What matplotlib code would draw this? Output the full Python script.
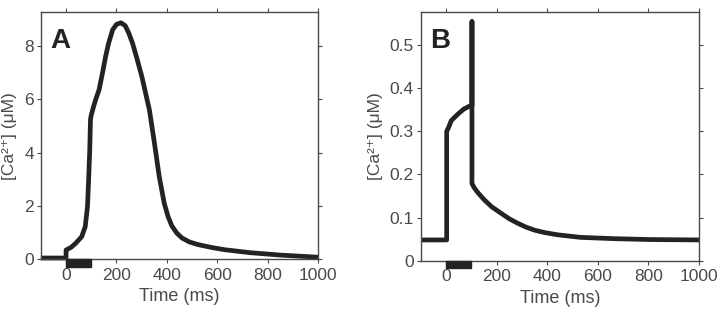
import matplotlib
matplotlib.use('Agg')
import matplotlib.pyplot as plt
import matplotlib.transforms as mtransforms
from matplotlib.patches import Rectangle

plt.rcParams['font.family'] = ['Liberation Sans', 'DejaVu Sans']

# Panel A: Ca2+ transient (time in ms, concentration in uM)
time_a = [-100, 0, 0, 20, 38, 62, 76, 85, 89, 94, 97, 100, 110, 120, 131, 145, 157, 169,
          185, 200, 218, 235, 250, 264, 282, 301, 331, 351, 370, 390, 405, 420, 440, 460,
          490, 525, 580, 630, 730, 850, 1000]
conc_a = [0.05, 0.05, 0.35, 0.45, 0.6, 0.85, 1.22, 1.97, 2.85, 4.1, 5.25, 5.4, 5.75,
          6.05, 6.35, 7.0, 7.6, 8.1, 8.6, 8.8, 8.86, 8.75, 8.45, 8.09, 7.5, 6.84, 5.59,
          4.34, 3.09, 2.09, 1.6, 1.25, 0.98, 0.8, 0.65, 0.55, 0.44, 0.36, 0.25, 0.16, 0.08]

# Panel B
time_b = [-100, 2, 2, 10, 20, 46, 70, 90, 102, 102, 102, 110, 125, 151, 180, 217, 250,
          282, 315, 348, 390, 440, 531, 663, 800, 1000]
conc_b = [0.048, 0.048, 0.30, 0.31, 0.325, 0.34, 0.352, 0.358, 0.36, 0.555, 0.179, 0.17,
          0.158, 0.141, 0.125, 0.110, 0.097, 0.087, 0.078, 0.071, 0.065, 0.060, 0.054,
          0.051, 0.049, 0.048]

stim = (0, 100)
xticks = [0, 200, 400, 600, 800, 1000]
yticks_a = [0, 2, 4, 6, 8]
yticks_b = [0, 0.1, 0.2, 0.3, 0.4, 0.5]
ytick_labels_b = ['0', '0.1', '0.2', '0.3', '0.4', '0.5']

gray = '#4a4a4a'
line_col = '#232323'

fig = plt.figure(figsize=(7.17, 3.19), dpi=100)
ax_a = fig.add_axes([0.057, 0.187, 0.3865, 0.775])
ax_b = fig.add_axes([0.587, 0.183, 0.388, 0.779])


def style(ax, letter, ylim, yticks, ylabels=None):
    ax.set_xlim(-100, 1000)
    ax.set_ylim(*ylim)
    ax.set_xticks(xticks)
    ax.set_yticks(yticks)
    if ylabels is not None:
        ax.set_yticklabels(ylabels)
    ax.tick_params(direction='out', length=3, width=0.8, color=gray, labelcolor=gray,
                   labelsize=12.5, top=True, right=True, pad=2)
    ax.tick_params(axis='x', pad=3)
    for s in ax.spines.values():
        s.set_color(gray)
        s.set_linewidth(1.0)
    ax.set_xlabel('Time (ms)', fontsize=13, color=gray, labelpad=4)
    ax.set_ylabel('[Ca²⁺] (μM)', fontsize=12.5, color=gray, labelpad=5)
    ax.text(0.035, 0.935, letter, transform=ax.transAxes, fontsize=20, fontweight='bold',
            color=line_col, va='top', ha='left')
    # stimulus bar under the x axis
    trans = mtransforms.blended_transform_factory(ax.transData, ax.transAxes)
    ax.add_patch(Rectangle((stim[0], -0.03), stim[1] - stim[0], 0.03, transform=trans,
                           color=line_col, clip_on=False, zorder=5))


ax_a.plot(time_a, conc_a, color=line_col, lw=3.4, solid_joinstyle='round',
          solid_capstyle='butt', clip_on=False)
style(ax_a, 'A', (0, 9.26), yticks_a)

ax_b.plot(time_b, conc_b, color=line_col, lw=3.4, solid_joinstyle='round',
          solid_capstyle='round')
style(ax_b, 'B', (0, 0.577), yticks_b, ytick_labels_b)

fig.savefig('out.png', dpi=100)
